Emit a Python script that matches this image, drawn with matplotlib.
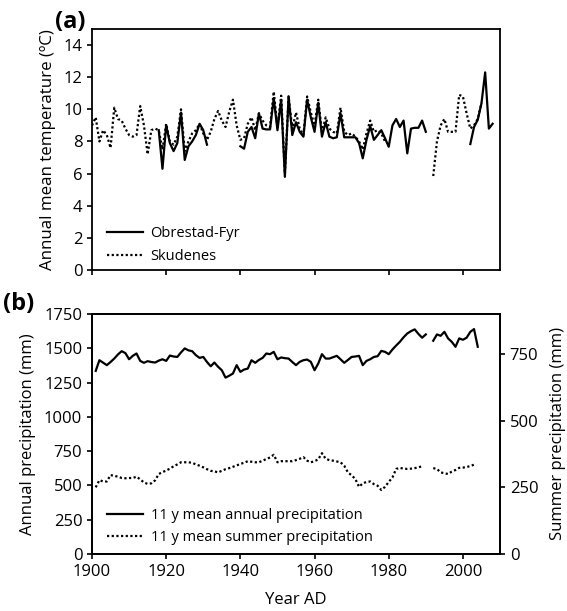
import numpy as np
import pandas as pd
import matplotlib
matplotlib.use("Agg")
import matplotlib.pyplot as plt

plt.rcParams['font.family'] = ['Open Sans', 'DejaVu Sans']
plt.rcParams['font.size'] = 12

# ---- panel (a): annual mean temperature (deg C)
obrestad_years = list(range(1918, 1932)) + list(range(1940, 1991)) + list(range(2002, 2009))
obrestad_temp = [8.7, 6.3, 9.0, 7.9, 7.4, 7.9, 9.8, 6.85, 7.7, 8.0, 8.4, 9.1, 8.7, 7.8,
                 7.7, 7.55, 8.6, 8.9, 8.2, 9.75, 8.8, 8.75, 8.75, 10.7,
                 8.7, 10.6, 5.8, 10.8, 8.4, 9.2, 8.6, 8.3, 10.6, 9.5,
                 8.6, 10.4, 8.3, 9.2, 8.3, 8.2, 8.26, 9.75, 8.26, 8.26,
                 8.26, 8.26, 7.9, 6.95, 8.1, 8.96, 8.1, 8.4, 8.7, 8.2,
                 7.67, 9.0, 9.4, 8.9, 9.3, 7.26, 8.8, 8.85, 8.85, 9.3,
                 8.6,
                 7.84, 8.9, 9.35, 10.37, 12.3, 8.8, 9.1]

skudenes_years = list(range(1900, 1980)) + list(range(1992, 2006))
skudenes_temp = [9.0, 9.5, 8.0, 8.7, 8.4, 7.6, 10.1, 9.4, 9.3, 8.8,
                 8.4, 8.3, 8.4, 10.2, 9.0, 7.2, 8.7, 8.8, 8.7, 7.5,
                 9.1, 8.0, 7.8, 8.3, 10.0, 7.4, 8.0, 8.5, 8.7, 9.1,
                 8.5, 8.1, 8.6, 9.4, 9.9, 9.3, 8.9, 9.85, 10.6, 9.0,
                 8.1, 8.2, 9.1, 9.5, 8.7, 9.75, 9.3, 9.0, 8.9, 11.1,
                 8.9, 10.85, 6.0, 10.8, 8.8, 9.8, 8.8, 8.4, 10.8, 9.8,
                 9.0, 10.6, 8.6, 9.5, 8.8, 8.6, 8.5, 10.1, 8.6, 8.4,
                 8.5, 8.3, 8.0, 7.5, 8.5, 9.3, 8.6, 8.7, 8.5, 8.0,
                 5.85, 8.0, 9.0, 9.4, 8.6, 8.6, 8.6, 10.9, 10.8, 9.75, 8.8, 9.0, 9.4, 10.4]

# ---- panel (b): 11 y running means of precipitation (mm)
annual_years = list(range(1901, 1991)) + list(range(1992, 2005))
annual_prec = [1335, 1413, 1395, 1377, 1400, 1425, 1455, 1479, 1465, 1420,
               1445, 1462, 1408, 1394, 1406, 1400, 1396, 1410, 1420, 1408,
               1447, 1440, 1437, 1470, 1499, 1485, 1479, 1450, 1430, 1437,
               1400, 1369, 1396, 1365, 1340, 1286, 1300, 1316, 1377, 1328,
               1345, 1352, 1413, 1394, 1415, 1430, 1462, 1457, 1474, 1420,
               1433, 1428, 1425, 1400, 1377, 1401, 1413, 1418, 1401, 1340,
               1389, 1457, 1425, 1425, 1435, 1445, 1420, 1394, 1415, 1437,
               1440, 1445, 1377, 1408, 1420, 1437, 1442, 1481, 1474, 1457,
               1491, 1520, 1547, 1580, 1608, 1625, 1638, 1605, 1577, 1601,
               1555, 1601, 1591, 1620, 1572, 1547, 1511, 1572, 1562, 1577, 1620, 1640, 1511]

summer_years = list(range(1901, 1990)) + list(range(1992, 2004))
summer_prec = [250, 277, 272, 272, 296, 293, 290, 285, 284, 285,
               285, 290, 280, 268, 263, 265, 276, 300, 307, 313,
               320, 329, 336, 344, 344, 344, 342, 336, 331, 325,
               318, 312, 310, 306, 312, 318, 322, 327, 332, 338,
               342, 348, 346, 344, 344, 350, 356, 362, 372, 344,
               348, 348, 348, 348, 352, 357, 363, 350, 344, 348,
               355, 378, 357, 352, 350, 347, 344, 331, 306, 295,
               281, 252, 265, 270, 272, 262, 256, 240, 252, 270,
               287, 319, 323, 320, 319, 320, 322, 325, 329,
               322, 319, 306, 303, 300, 309, 315, 323, 324, 326, 330, 335]

all_years = np.arange(1900, 2010)


def with_gaps(years, values):
    # reindex onto every year so missing years break the line
    return pd.Series(values, index=years).reindex(all_years)


obrestad = with_gaps(obrestad_years, obrestad_temp)
skudenes = with_gaps(skudenes_years, skudenes_temp)
annual = with_gaps(annual_years, annual_prec)
summer = with_gaps(summer_years, summer_prec)

W, H = 567, 611
fig = plt.figure(figsize=(W / 100, H / 100), dpi=100)
ax1 = fig.add_axes([92 / W, 1 - 270 / H, 408 / W, 241 / H])
ax2 = fig.add_axes([92 / W, 1 - 554 / H, 408 / W, 240 / H])
ax3 = ax2.twinx()

dots = (0, (1, 1.1))
leg_kw = dict(loc='lower left', frameon=False, fontsize=10.5, handlelength=2.5,
              handletextpad=0.5, labelspacing=0.5, borderaxespad=0.2)

ax1.plot(all_years, skudenes, color='black', lw=1.6, ls=dots, label='Skudenes')
ax1.plot(all_years, obrestad, color='black', lw=1.6, label='Obrestad-Fyr')
ax1.set_xlim(1900, 2010)
ax1.set_ylim(0, 15)
ax1.set_yticks(range(0, 15, 2))
ax1.set_xticks(range(1900, 2010, 20))
ax1.set_xticklabels([])
ax1.set_ylabel('Annual mean temperature (ºC)', fontsize=12.2, labelpad=5)
h, l = ax1.get_legend_handles_labels()
ax1.legend(h[::-1], l[::-1], bbox_to_anchor=(0.015, -0.01), **leg_kw)

ln1, = ax2.plot(all_years, annual, color='black', lw=1.6,
                label='11 y mean annual precipitation')
ln2, = ax3.plot(all_years, summer, color='black', lw=1.6, ls=dots,
                label='11 y mean summer precipitation')
ax2.set_xlim(1900, 2010)
ax2.set_ylim(0, 1750)
ax2.set_yticks(range(0, 1751, 250))
ax2.set_xticks(range(1900, 2010, 20))
ax3.set_ylim(0, 900)
ax3.set_yticks([0, 250, 500, 750])
ax2.set_ylabel('Annual precipitation (mm)', fontsize=12, labelpad=6)
ax3.set_ylabel('Summer precipitation (mm)', fontsize=12, labelpad=8)
ax2.set_xlabel('Year AD', fontsize=12, labelpad=9)
ax3.legend([ln1, ln2], [ln1.get_label(), ln2.get_label()],
           bbox_to_anchor=(0.015, 0.0), **leg_kw)

for ax in (ax1, ax2, ax3):
    for s in ax.spines.values():
        s.set_linewidth(1.3)
    ax.tick_params(direction='out', length=3.5, width=1.2, labelsize=12)
ax1.tick_params(axis='both', which='both', right=False, top=False)
ax2.tick_params(axis='y', right=False)

fig.text(55 / W, 1 - 10 / H, '(a)', fontsize=17, fontweight='bold', va='top', ha='left')
fig.text(3 / W, 1 - 292 / H, '(b)', fontsize=17, fontweight='bold', va='top', ha='left')

fig.savefig('out.png', dpi=100)
